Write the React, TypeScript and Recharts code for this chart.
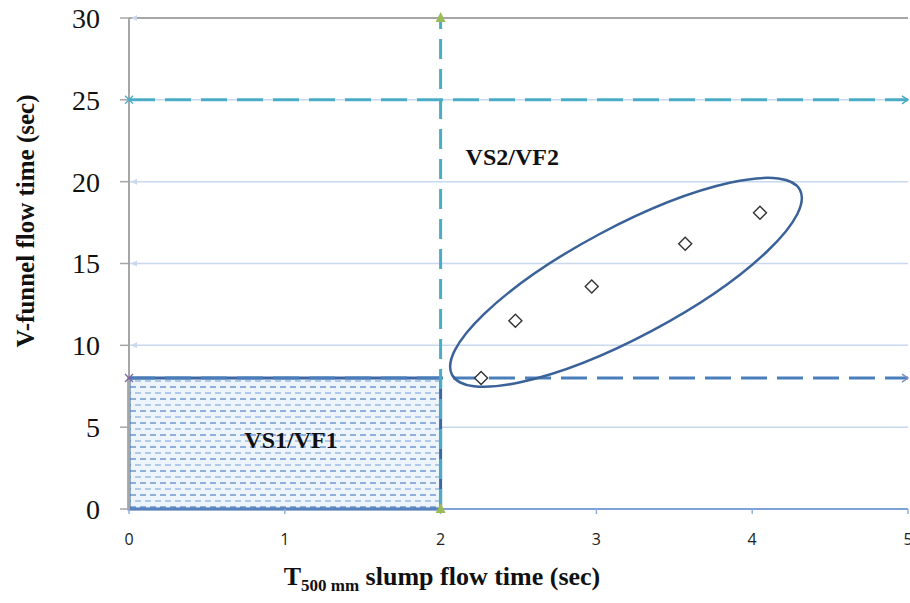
import {
  ScatterChart,
  Scatter,
  XAxis,
  YAxis,
  CartesianGrid,
  ReferenceLine,
  ReferenceArea,
  ReferenceDot,
  Label,
} from "recharts";

// axis ticks
const xTicks = [0, 1, 2, 3, 4, 5];
const yTicks = [0, 5, 10, 15, 20, 25, 30];

// measured mixes: T500 slump flow time vs V-funnel time
const slumpTime = [2.26, 2.48, 2.97, 3.57, 4.05];
const funnelTime = [8.0, 11.5, 13.6, 16.2, 18.1];

// class limits
const vsLimit = 2;
const vfLower = 8;
const vfUpper = 25;
const xMax = 5;
const yMax = 30;

// small arrow heads left on the gridlines at x = 0
const gridMarkY = [10, 15, 20, 30];

// cluster ellipse (centre in data units)
const clusterX = 3.19;
const clusterY = 13.85;

const points = slumpTime.map((x, i) => ({ x, y: funnelTime[i] }));
const upperLine = [{ x: 0, y: vfUpper }, { x: xMax, y: vfUpper }];
const lowerLine = [{ x: 0, y: vfLower }, { x: xMax, y: vfLower }];
const vsLine = [{ x: vsLimit, y: 0 }, { x: vsLimit, y: yMax }];
const gridMarks = gridMarkY.map((y) => ({ x: 0, y }));

const serif = '"Liberation Serif", "Times New Roman", serif';

function Diamond(p: any) {
  const { cx, cy } = p;
  const r = 6.5;
  return (
    <path
      d={`M${cx},${cy - r}L${cx + r},${cy}L${cx},${cy + r}L${cx - r},${cy}Z`}
      fill="#fff"
      stroke="#333"
      strokeWidth={1.4}
    />
  );
}

// x mark at the start, open arrow at the end
function endMarks(color: string, startColor: string) {
  return (p: any) => {
    const { cx, cy, payload } = p;
    if (payload.x === 0) {
      return (
        <g stroke={startColor} strokeWidth={1.3}>
          <line x1={cx - 4} y1={cy - 4} x2={cx + 4} y2={cy + 4} />
          <line x1={cx - 4} y1={cy + 4} x2={cx + 4} y2={cy - 4} />
        </g>
      );
    }
    return (
      <path
        d={`M${cx - 6},${cy - 4}L${cx},${cy}L${cx - 6},${cy + 4}`}
        fill="none"
        stroke={color}
        strokeWidth={1.5}
      />
    );
  };
}

function Triangle(p: any) {
  const { cx, cy } = p;
  return <path d={`M${cx},${cy - 6}L${cx + 5},${cy + 4}L${cx - 5},${cy + 4}Z`} fill="#9bbb59" />;
}

function GridArrow(p: any) {
  const { cx, cy } = p;
  return <path d={`M${cx + 2},${cy}L${cx + 8},${cy - 3}L${cx + 8},${cy + 3}Z`} fill="#c9d8ec" />;
}

function ClusterEllipse(p: any) {
  const { cx, cy } = p;
  return (
    <ellipse
      cx={cx}
      cy={cy}
      rx={197}
      ry={55}
      transform={`rotate(-28 ${cx} ${cy})`}
      fill="none"
      stroke="#3a6299"
      strokeWidth={2.5}
    />
  );
}

function zoneText(text: string) {
  return (p: any) => (
    <text
      x={p.cx}
      y={p.cy}
      textAnchor="middle"
      dominantBaseline="central"
      fontFamily={serif}
      fontWeight="bold"
      fontSize={24}
      fill="#111"
    >
      {text}
    </text>
  );
}

function YTitle(props: any) {
  const { x, y } = props.viewBox;
  const tx = x + 25;
  const ty = y + 203;
  return (
    <text
      x={tx}
      y={ty}
      transform={`rotate(-90 ${tx} ${ty})`}
      textAnchor="middle"
      dominantBaseline="central"
      fontFamily={serif}
      fontWeight="bold"
      fontSize={25}
      fill="#111"
    >
      V-funnel flow time (sec)
    </text>
  );
}

function XTitle(props: any) {
  const { x, y } = props.viewBox;
  return (
    <text
      x={x + 313}
      y={y + 76}
      textAnchor="middle"
      fontFamily={serif}
      fontWeight="bold"
      fontSize={26}
      fill="#111"
    >
      <tspan>T</tspan>
      <tspan dy={6} fontSize={17}>500 mm</tspan>
      <tspan dy={-6}> slump flow time (sec)</tspan>
    </text>
  );
}

export default function App() {
  return (
    <div style={{ position: "absolute", left: 0, top: 0, background: "#fff" }}>
      <svg width={0} height={0} style={{ position: "absolute" }}>
        <defs>
          <pattern id="vsHatch" width={10} height={12} patternUnits="userSpaceOnUse">
            <rect width={10} height={12} fill="#eef4fb" />
            <line x1={0} y1={3} x2={6} y2={3} stroke="#7099d2" strokeWidth={1.5} />
            <line x1={5} y1={9} x2={10} y2={9} stroke="#9dbbe3" strokeWidth={1.5} />
            <line x1={0} y1={9} x2={1} y2={9} stroke="#9dbbe3" strokeWidth={1.5} />
          </pattern>
        </defs>
      </svg>
      <ScatterChart width={910} height={603} margin={{ top: 18, right: 2, left: 0, bottom: 0 }}>
        <CartesianGrid vertical={false} stroke="#c8d8ed" strokeWidth={1.5} />
        <XAxis
          type="number"
          dataKey="x"
          domain={[0, xMax]}
          ticks={xTicks}
          interval={0}
          height={94}
          axisLine={{ stroke: "#5f8cc8", strokeWidth: 1.5 }}
          tickLine={{ stroke: "#8db3e2", strokeWidth: 1.5 }}
          tickSize={5}
          tickMargin={20}
          tick={{ fill: "#222", fontSize: 16, fontFamily: '"Open Sans", sans-serif' }}
        >
          <Label content={XTitle} />
        </XAxis>
        <YAxis
          type="number"
          dataKey="y"
          domain={[0, yMax]}
          ticks={yTicks}
          interval={0}
          width={129}
          axisLine={{ stroke: "#a6a6a6", strokeWidth: 2 }}
          tickLine={{ stroke: "#a6a6a6", strokeWidth: 1.5 }}
          tickSize={9}
          tickMargin={20}
          tick={{ fill: "#111", fontSize: 28, fontFamily: serif }}
        >
          <Label content={YTitle} />
        </YAxis>
        <ReferenceLine y={yMax} stroke="#a6a6a6" strokeWidth={2} />
        <ReferenceArea
          x1={0}
          x2={vsLimit}
          y1={0}
          y2={vfLower}
          fill="url(#vsHatch)"
          fillOpacity={1}
          stroke="#3d66a3"
          strokeWidth={3}
        />
        <Scatter data={gridMarks} shape={GridArrow} isAnimationActive={false} />
        <Scatter
          data={upperLine}
          line={{ stroke: "#4bacc6", strokeWidth: 3, strokeDasharray: "26 10" }}
          shape={endMarks("#4bacc6", "#4bacc6")}
          isAnimationActive={false}
        />
        <Scatter
          data={lowerLine}
          line={{ stroke: "#4a7ebb", strokeWidth: 3, strokeDasharray: "26 10" }}
          shape={endMarks("#7f8fc0", "#8064a2")}
          isAnimationActive={false}
        />
        <Scatter
          data={vsLine}
          line={{ stroke: "#4bacc6", strokeWidth: 3, strokeDasharray: "20 10" }}
          shape={Triangle}
          isAnimationActive={false}
        />
        <Scatter data={points} shape={Diamond} isAnimationActive={false} />
        <ReferenceDot x={clusterX} y={clusterY} shape={ClusterEllipse} />
        <ReferenceDot x={2.46} y={21.5} shape={zoneText("VS2/VF2")} />
        <ReferenceDot x={1.04} y={4.2} shape={zoneText("VS1/VF1")} />
      </ScatterChart>
    </div>
  );
}
